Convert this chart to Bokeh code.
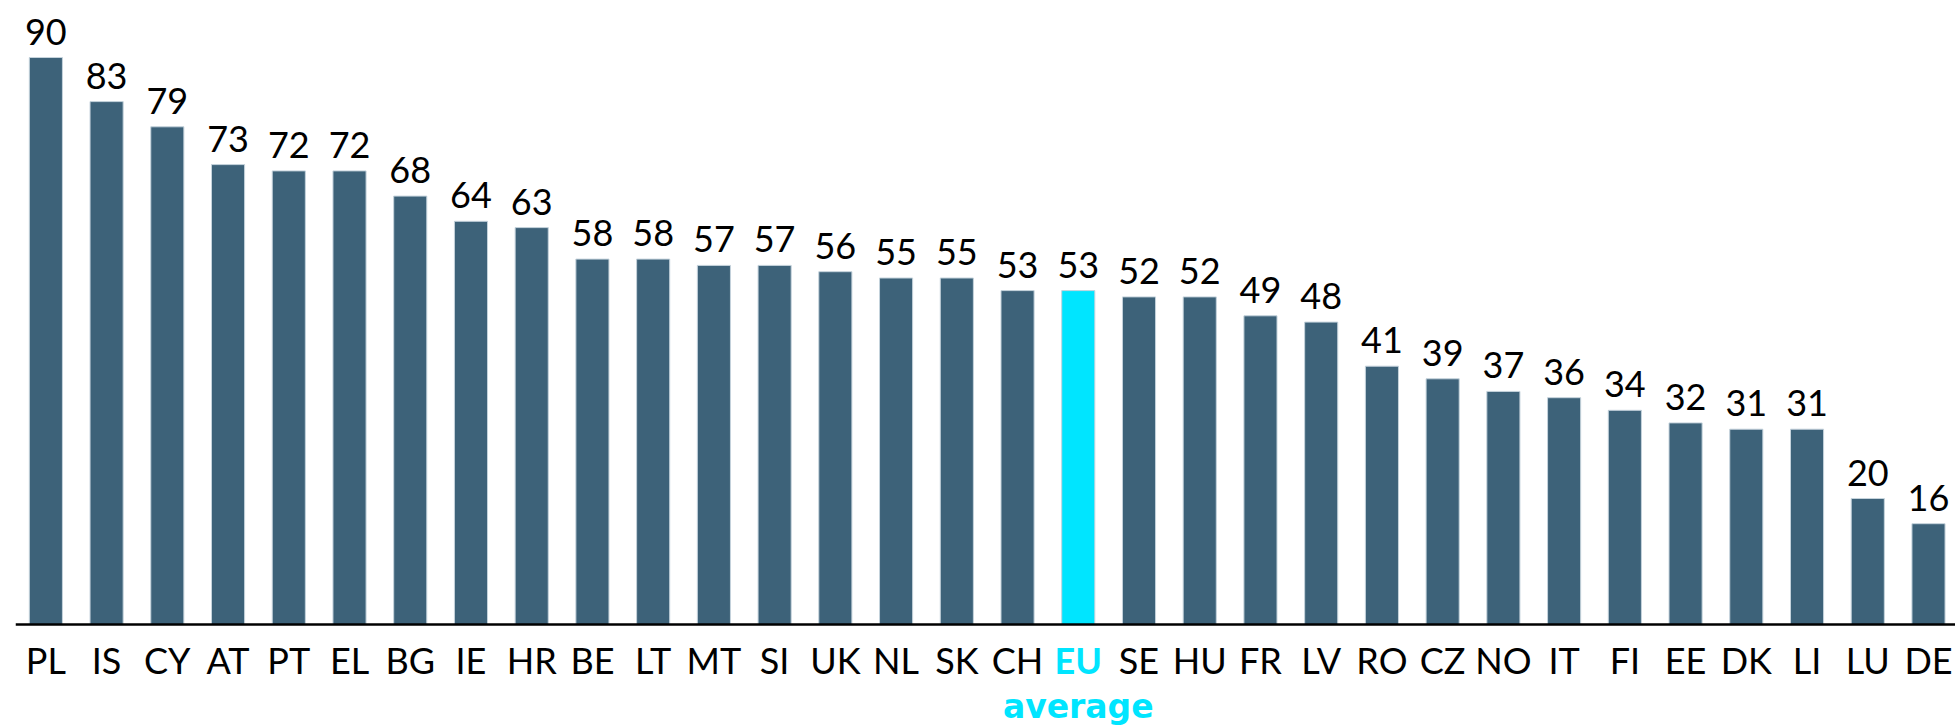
from bokeh.plotting import figure
from bokeh.models import Range1d, ColumnDataSource, LabelSet, Span
from bokeh.core.properties import value
from bokeh.embed import file_html
from bokeh.resources import INLINE

countries = ["PL", "IS", "CY", "AT", "PT", "EL", "BG", "IE", "HR", "BE", "LT", "MT",
             "SI", "UK", "NL", "SK", "CH", "EU", "SE", "HU", "FR", "LV", "RO", "CZ",
             "NO", "IT", "FI", "EE", "DK", "LI", "LU", "DE"]
values = [90, 83, 79, 73, 72, 72, 68, 64, 63, 58, 58, 57, 57, 56, 55, 55, 53, 53,
          52, 52, 49, 48, 41, 39, 37, 36, 34, 32, 31, 31, 20, 16]
highlight = "EU"
highlight_sub = "average"

BAR = "#3D6279"
CYAN = "#00E5FF"
FONT = "Lato"

xs = [i + 0.5 for i in range(len(countries))]
is_hl = [c == highlight for c in countries]
src = ColumnDataSource(dict(
    x=xs, top=values,
    color=[CYAN if h else BAR for h in is_hl],
    label=[str(v) for v in values],
    cat=countries,
    cat_color=[CYAN if h else "black" for h in is_hl],
    cat_style=["bold" if h else "normal" for h in is_hl],
    zero=[0] * len(countries),
))
sub_src = ColumnDataSource(dict(x=[xs[countries.index(highlight)]], zero=[0],
                                text=[highlight_sub]))

PXU = 6.3          # pixels per unit
W, H = 1955, 725
LEFT = 15
axis_px = 624      # pixel row of the zero line from the top
step = 60.73       # pixels per category

p = figure(width=W, height=H, output_backend="svg", toolbar_location=None,
           x_range=Range1d(0, (W - LEFT) / step),
           y_range=Range1d(-(H - axis_px) / PXU, axis_px / PXU),
           min_border_left=LEFT, min_border_right=0, min_border_top=0,
           min_border_bottom=0)
p.outline_line_color = None
p.grid.visible = False
p.axis.visible = False
p.background_fill_color = "white"

p.vbar(x="x", top="top", width=0.545, bottom=0, fill_color="color",
       line_color="#c5d3dc", line_width=1, source=src)

p.add_layout(Span(location=0, dimension="width", line_color="black", line_width=2.5))

p.add_layout(LabelSet(x="x", y="top", text="label", y_offset=13, text_align="center",
                      text_baseline="alphabetic", text_font=value(FONT),
                      text_font_size="36px", text_color="black", source=src))

p.add_layout(LabelSet(x="x", y="zero", text="cat", y_offset=-49, text_align="center",
                      text_baseline="alphabetic", text_font=value(FONT),
                      text_font_size="36px", text_color="cat_color",
                      text_font_style="cat_style", source=src))

p.add_layout(LabelSet(x="x", y="zero", text="text", y_offset=-93, text_align="center",
                      text_baseline="alphabetic", text_font=value("DejaVu Sans"),
                      text_font_size="33px", text_color=CYAN,
                      text_font_style="bold", source=sub_src))

open("out.html", "w").write(file_html(p, INLINE))
